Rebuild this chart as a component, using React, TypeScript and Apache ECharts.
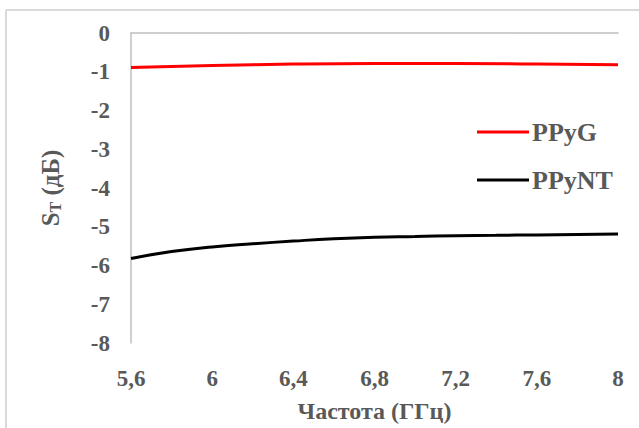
import React, { useEffect, useRef } from "react";
import * as echarts from "echarts";

const freqPPyG = [5.6, 6.0, 6.4, 6.8, 7.2, 7.6, 8.0];
const valPPyG = [-0.89, -0.84, -0.8, -0.785, -0.785, -0.8, -0.82];
const freqPPyNT = [5.6, 5.8, 6.0, 6.2, 6.4, 6.6, 6.8, 7.0, 7.2, 7.4, 7.6, 7.8, 8.0];
const valPPyNT = [-5.82, -5.64, -5.52, -5.44, -5.37, -5.31, -5.27, -5.25, -5.23, -5.22, -5.21, -5.2, -5.19];
const seriesNames = ["PPyG", "PPyNT"];
const seriesColors = ["#ff0000", "#000000"];
const xTitle = "Частота (ГГц)";

const FONT = "Times New Roman";
const GREY = "#595959";

export default function App() {
  const ref = useRef<HTMLDivElement>(null);
  useEffect(() => {
    document.body.style.margin = "0";
    const chart = echarts.init(ref.current!, null, { renderer: "svg" });
    const toPairs = (xs: number[], ys: number[]) => xs.map((x, i) => [x, ys[i]]);
    chart.setOption({
      animation: false,
      backgroundColor: "#ffffff",
      textStyle: { fontFamily: FONT },
      grid: { left: 131, top: 33, right: 21, bottom: 80 },
      graphic: [
        { type: "line", shape: { x1: 6, y1: 10, x2: 639, y2: 10 }, style: { stroke: "#d9d9d9", lineWidth: 2 } },
        { type: "line", shape: { x1: 6, y1: 10, x2: 6, y2: 428 }, style: { stroke: "#d9d9d9", lineWidth: 2 } },
      ],
      legend: {
        orient: "vertical",
        left: 477,
        top: 119,
        padding: 0,
        itemWidth: 52,
        itemHeight: 3,
        itemGap: 22,
        icon: "rect",
        data: seriesNames.map((n, i) => ({ name: n, itemStyle: { color: seriesColors[i] } })),
        textStyle: { fontFamily: FONT, fontWeight: "bold", fontSize: 26, color: GREY, lineHeight: 26, padding: [0, 0, 0, -2] },
      },
      xAxis: [
        {
          type: "value",
          min: 5.6,
          max: 8,
          interval: 0.4,
          position: "bottom",
          axisLine: { show: false, onZero: false },
          axisTick: { show: false },
          splitLine: { show: false },
          axisLabel: {
            margin: 24,
            fontFamily: FONT,
            fontWeight: "bold",
            fontSize: 23,
            color: GREY,
            formatter: (v: number) => String(Math.round(v * 10) / 10).replace(".", ","),
          },
          name: xTitle,
          nameLocation: "middle",
          nameGap: 56,
          nameTextStyle: { fontFamily: FONT, fontWeight: "bold", fontSize: 24, color: GREY },
        },
        {
          type: "value",
          min: 5.6,
          max: 8,
          interval: 0.4,
          position: "top",
          axisLine: { show: true, onZero: false, lineStyle: { color: "#bfbfbf", width: 1.5 } },
          axisTick: { show: false },
          splitLine: { show: false },
          axisLabel: { show: false },
        },
      ],
      yAxis: {
        type: "value",
        min: -8,
        max: 0,
        interval: 1,
        axisLine: { show: true, lineStyle: { color: "#bfbfbf", width: 1.5 } },
        axisTick: { show: false },
        splitLine: { show: false },
        axisLabel: { margin: 21, fontFamily: FONT, fontWeight: "bold", fontSize: 23, color: GREY },
        name: "{s|S}{t|T}{s| (дБ)}",
        nameLocation: "middle",
        nameRotate: 90,
        nameGap: 66,
        nameTextStyle: {
          rich: {
            s: { fontFamily: FONT, fontWeight: "bold", fontSize: 25, color: GREY, lineHeight: 30, verticalAlign: "middle" },
            t: { fontFamily: FONT, fontWeight: "bold", fontSize: 16, color: GREY, lineHeight: 30, verticalAlign: "bottom", padding: [0, 0, 2, 0] },
          },
        },
      },
      series: [
        {
          name: seriesNames[0],
          type: "line",
          xAxisIndex: 0,
          data: toPairs(freqPPyG, valPPyG),
          smooth: true,
          symbol: "none",
          lineStyle: { color: seriesColors[0], width: 3 },
          itemStyle: { color: seriesColors[0] },
        },
        {
          name: seriesNames[1],
          type: "line",
          xAxisIndex: 0,
          data: toPairs(freqPPyNT, valPPyNT),
          smooth: true,
          symbol: "none",
          lineStyle: { color: seriesColors[1], width: 3 },
          itemStyle: { color: seriesColors[1] },
        },
      ],
    });
    return () => chart.dispose();
  }, []);
  return <div ref={ref} style={{ width: 639, height: 428 }} />;
}
